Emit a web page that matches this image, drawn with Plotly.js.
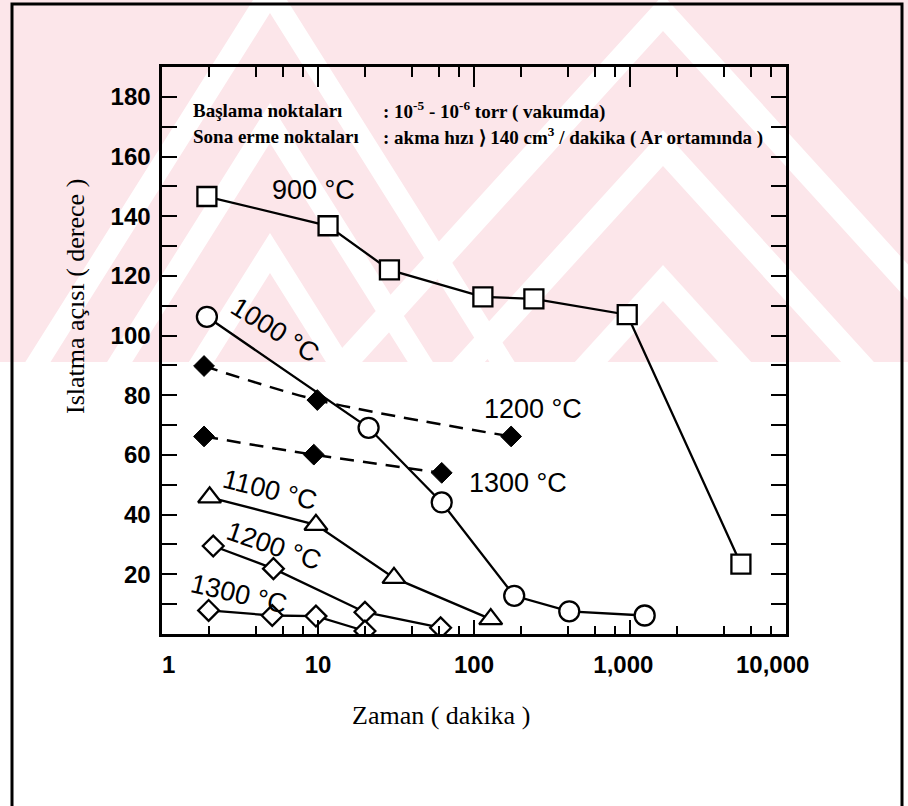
<!DOCTYPE html>
<html>
<head>
<meta charset="utf-8">
<script src="https://cdn.plot.ly/plotly-3.0.1.min.js"></script>
<style>
html,body{margin:0;padding:0;background:#fff;}
#chart{width:908px;height:806px;}
</style>
</head>
<body>
<div id="chart"></div>
<script>
// ---- data ----
const time900   = [1.94, 11.6, 28.7, 114, 242, 960, 5140];
const angle900  = [146.6, 136.8, 122.0, 113.0, 112.3, 107.0, 23.4];
const time1000  = [1.94, 21.1, 62.1, 181, 408, 1242];
const angle1000 = [106.3, 69.1, 44.1, 12.8, 7.6, 6.2];
const time1100  = [2.02, 9.7, 30.7, 128];
const angle1100 = [45.8, 36.6, 18.8, 5.0];
const time1200  = [2.13, 5.18, 20.0, 61.1];
const angle1200 = [29.5, 21.9, 7.3, 2.1];
const time1300  = [1.99, 5.09, 9.7, 20.0];
const angle1300 = [7.9, 6.2, 6.0, 1.0];
const time1200Ar  = [1.86, 9.9, 173];
const angle1200Ar = [89.8, 78.4, 66.2];
const time1300Ar  = [1.86, 9.4, 62.1];
const angle1300Ar = [66.2, 60.1, 54.0];

const xTickVals  = [1, 10, 100, 1000, 10000];
const xTickText  = ['\u20071', '10', '100', '1,000\u2007', '10,000\u2007\u2007'];
const xMinorVals = [2,4,6,8, 20,40,60,80, 200,400,600,800, 2000,4000,6000,8000];
const yTickVals  = [20, 40, 60, 80, 100, 120, 140, 160, 180];
const yMinorVals = [10, 30, 50, 70, 90, 110, 130, 150, 170];

const curveLabels = ['900 °C', '1000 °C', '1100 °C', '1200 °C', '1300 °C', '1200 °C', '1300 °C'];
const headerLeft  = ['Başlama noktaları', 'Sona erme noktaları'];
const headerRight = [': 10<sup>-5</sup> - 10<sup>-6</sup> torr ( vakumda)',
                     ': akma hızı ⟩ 140 cm<sup>3</sup> / dakika ( Ar ortamında )'];
const xTitle = 'Zaman ( dakika )';
const yTitle = 'Islatma açısı ( derece )';

// ---- geometry helpers (page pixels -> paper) ----
const L = 162, R = 786, T = 67, B = 634;
const fx = px => (px - L) / (R - L);
const fy = py => (B - py) / (B - T);

const solidLine = {color: '#000', width: 2.3};
function openMarker(symbol, size) {
  return {symbol: symbol, size: size, color: '#fff', line: {color: '#000', width: 2.3}};
}
const dashLine = {color: '#000', width: 2.5, dash: '14px,9px', shape: 'spline', smoothing: 0.9};
const filledDiamond = {symbol: 'diamond', size: 16, color: '#000', line: {color: '#000', width: 1}};

const traces = [
  {x: time900, y: angle900, mode: 'lines+markers', line: solidLine, marker: openMarker('square', 19)},
  {x: time1000, y: angle1000, mode: 'lines+markers', line: solidLine, marker: openMarker('circle', 20)},
  {x: time1100, y: angle1100, mode: 'lines+markers', line: solidLine, marker: openMarker('triangle-up', 20)},
  {x: time1200, y: angle1200, mode: 'lines+markers', line: solidLine, marker: openMarker('diamond', 16)},
  {x: time1300, y: angle1300, mode: 'lines+markers', line: solidLine, marker: openMarker('diamond', 16)},
  {x: time1200Ar, y: angle1200Ar, mode: 'lines+markers', line: dashLine, marker: filledDiamond},
  {x: time1300Ar, y: angle1300Ar, mode: 'lines+markers', line: dashLine, marker: filledDiamond},
  // invisible helper so the top axis (with its own tick lengths) is drawn
  {x: time900, y: angle900, xaxis: 'x2', mode: 'markers', marker: {opacity: 0}, hoverinfo: 'skip'}
];

const tickFont = {family: 'Liberation Sans, Arial, sans-serif', size: 24, color: '#000', weight: 'bold'};
const labFont  = {family: 'Liberation Sans, Arial, sans-serif', size: 27, color: '#000'};
const serif    = 'Liberation Serif, Times New Roman, serif';

function lab(i, px, py, ang) {
  return {text: curveLabels[i], xref: 'paper', yref: 'paper', x: fx(px), y: fy(py),
          xanchor: 'center', yanchor: 'middle', showarrow: false, textangle: ang, font: labFont};
}
function head(txt, px, py) {
  return {text: txt, xref: 'paper', yref: 'paper', x: fx(px), y: fy(py), xanchor: 'left', yanchor: 'middle',
          showarrow: false, font: {family: serif, size: 19, color: '#000', weight: 'bold'}};
}

const annotations = [
  lab(0, 313, 190, 0),
  lab(1, 275, 330, 32),
  lab(2, 270, 490, 14),
  lab(3, 274, 546, 19),
  lab(4, 239, 594, 13),
  lab(5, 533, 409, 0),
  lab(6, 518, 483, 0),
  head(headerLeft[0], 191, 110),
  head(headerRight[0], 381, 110),
  head(headerLeft[1], 191, 136),
  head(headerRight[1], 381, 136),
  {text: xTitle, xref: 'paper', yref: 'paper', x: fx(441), y: fy(715), xanchor: 'center', yanchor: 'middle',
   showarrow: false, font: {family: serif, size: 26, color: '#000'}},
  {text: yTitle, xref: 'paper', yref: 'paper', x: fx(75), y: fy(297), xanchor: 'center', yanchor: 'middle',
   showarrow: false, textangle: -90, font: {family: serif, size: 26, color: '#000'}}
];

// watermark: pink band with white chevron stripes
const pink = '#fce6ea';
const shapes = [
  {type: 'rect', xref: 'paper', yref: 'paper', x0: fx(-5), x1: fx(915), y0: fy(362), y1: fy(-5),
   fillcolor: pink, line: {width: 0}, layer: 'below'}
];
function chevron(ax, ay, s, t) {
  const yb = 362;
  const lo = ax - (yb - ay) / s, ro = ax + (yb - ay) / s;
  const li = ax - (yb - ay - t) / s, ri = ax + (yb - ay - t) / s;
  const p = 'M ' + fx(lo) + ' ' + fy(yb) + ' L ' + fx(ax) + ' ' + fy(ay) + ' L ' + fx(ro) + ' ' + fy(yb) +
            ' L ' + fx(ri) + ' ' + fy(yb) + ' L ' + fx(ax) + ' ' + fy(ay + t) + ' L ' + fx(li) + ' ' + fy(yb) + ' Z';
  return {type: 'path', xref: 'paper', yref: 'paper', path: p, fillcolor: '#fff', line: {width: 0}, layer: 'below'};
}
[[663, 265], [663, 130], [663, -5]].forEach(c => shapes.push(chevron(c[0], c[1], 1.1, 36)));
[[270, -27], [270, 103], [270, 233]].forEach(c => shapes.push(chevron(c[0], c[1], 1.59, 40)));
// outer frame of the figure
shapes.push({type: 'rect', xref: 'paper', yref: 'paper', x0: fx(12), x1: fx(902), y0: fy(815), y1: fy(4),
             line: {color: '#000', width: 3}, fillcolor: 'rgba(0,0,0,0)', layer: 'above'});

const layout = {
  width: 908, height: 806,
  margin: {l: L, r: 908 - R, t: T, b: 806 - B},
  paper_bgcolor: '#fff', plot_bgcolor: 'rgba(0,0,0,0)',
  showlegend: false,
  xaxis: {
    type: 'log', range: [0, 4], showgrid: false, zeroline: false,
    showline: true, linecolor: '#000', linewidth: 2.6,
    ticks: 'inside', ticklen: 14, tickwidth: 2, tickcolor: '#000',
    tickmode: 'array', tickvals: xTickVals, ticktext: xTickText, tickfont: tickFont,
    ticklabelstandoff: 8,
    minor: {tickmode: 'array', tickvals: xMinorVals, ticks: 'inside', ticklen: 8, tickwidth: 2, tickcolor: '#000'}
  },
  xaxis2: {
    type: 'log', range: [0, 4], overlaying: 'x', side: 'top', showgrid: false, zeroline: false,
    showline: true, linecolor: '#000', linewidth: 2.6,
    ticks: 'inside', ticklen: 20, tickwidth: 2, tickcolor: '#000',
    tickmode: 'array', tickvals: xTickVals, showticklabels: false,
    minor: {tickmode: 'array', tickvals: xMinorVals, ticks: 'inside', ticklen: 10, tickwidth: 2, tickcolor: '#000'}
  },
  yaxis: {
    range: [0, 190], showgrid: false, zeroline: false,
    showline: true, linecolor: '#000', linewidth: 2.6, mirror: 'allticks',
    ticks: 'inside', ticklen: 15, tickwidth: 2, tickcolor: '#000',
    tickmode: 'array', tickvals: yTickVals, tickfont: tickFont,
    ticklabelstandoff: 4,
    minor: {tickmode: 'array', tickvals: yMinorVals, ticks: 'inside', ticklen: 8, tickwidth: 2, tickcolor: '#000'}
  },
  annotations: annotations,
  shapes: shapes
};

Plotly.newPlot('chart', traces, layout, {staticPlot: true, displayModeBar: false});
</script>
</body>
</html>
